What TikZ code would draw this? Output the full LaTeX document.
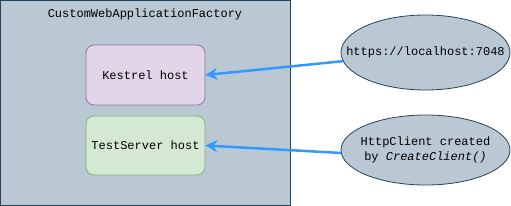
\documentclass[tikz,border=0pt]{standalone}
\usepackage{fontspec}
\setmonofont{Liberation Mono}
\usepackage{tikz}
\usetikzlibrary{shapes.geometric, arrows.meta, positioning}

\definecolor{factfill}{HTML}{BAC8D3}
\definecolor{factline}{HTML}{23445D}
\definecolor{kestfill}{HTML}{E1D5E7}
\definecolor{kestline}{HTML}{9673A6}
\definecolor{tsfill}{HTML}{D5E8D4}
\definecolor{tsline}{HTML}{82B366}
\definecolor{linkblue}{HTML}{3399FF}

\tikzset{
  hostbox/.style={draw, rounded corners=8pt, line width=0.8pt, minimum width=119pt, minimum height=60pt, inner sep=0pt},
  client/.style={ellipse, draw=factline, fill=factfill, line width=0.8pt, minimum width=169pt, inner sep=0pt},
  link/.style={draw=linkblue, line width=2.5pt, -{Stealth[length=12pt, width=12pt, inset=4pt]}}
}

\begin{document}
\begin{tikzpicture}[x=1pt, y=-1pt, font=\fontsize{12}{15}\selectfont\ttfamily]
		\useasboundingbox (0,0) rectangle (511,206);
		% Factory frame
		\draw[draw=factline, fill=factfill, line width=1pt] (0.5,0.5) rectangle (290,205);
		\node (factory) at (145,14) {CustomWebApplicationFactory};
		% Hosts inside the factory
		\node[hostbox, draw=kestline, fill=kestfill] (kestrel) at (145.5,75) {Kestrel host};
		\node[hostbox, draw=tsline, fill=tsfill, minimum height=59pt] (testserver) at (145.5,145.5) {TestServer host};
		% Outside callers (shape first, text on top)
		\node[client, minimum height=75pt] (url) at (425.5,52.5) {};
		\node (urltext) at (url.center) {https://localhost:7048};
		\node[client, minimum height=70pt] (httpclient) at (425.5,150) {};
		\node[align=center] (clienttext) at (httpclient.center) {HttpClient created\\by \textit{CreateClient()}};
		% Connections
		\draw[link] (url.186) -- (kestrel.east);
		\draw[link] (httpclient.182) -- (testserver.east);
	\end{tikzpicture}
\end{document}
